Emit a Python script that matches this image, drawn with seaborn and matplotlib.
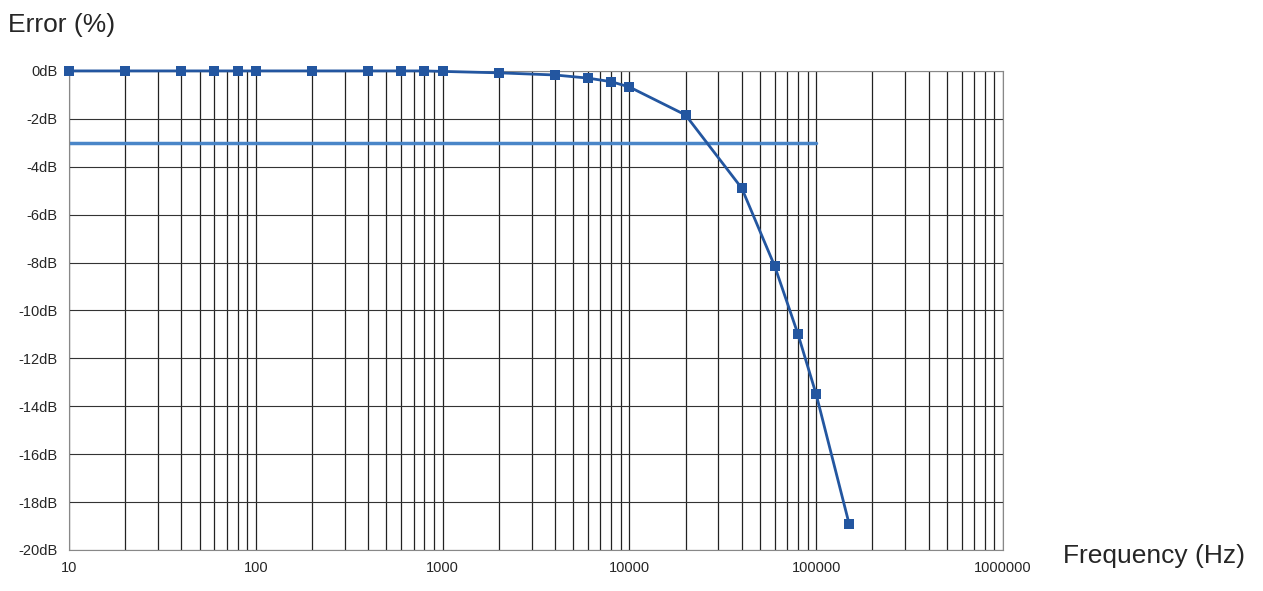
import numpy as np
import matplotlib
matplotlib.use("Agg")
import matplotlib.pyplot as plt
import seaborn as sns
from matplotlib.ticker import LogLocator, FixedLocator, FuncFormatter

# Frequency response
freq_hz = [10, 20, 40, 60, 80, 100, 200, 400, 600, 800, 1000, 2000, 4000,
           6000, 8000, 10000, 20000, 40000, 60000, 80000, 100000, 150000]
error_db = [0, 0, 0, 0, 0, 0, 0, 0, 0, 0, -0.02, -0.08, -0.17,
            -0.3, -0.45, -0.67, -1.84, -4.9, -8.15, -11.0, -13.5, -18.9]
cutoff_x = [10, 100000]
cutoff_y = [-3, -3]

sns.set_style("white")
plt.rcParams['font.family'] = ['Liberation Sans', 'DejaVu Sans']

fig = plt.figure(figsize=(12.63, 5.91), dpi=100)
ax = fig.add_axes([0.0546, 0.0694, 0.7395, 0.8106])

sns.lineplot(x=cutoff_x, y=cutoff_y, ax=ax, color="#4a86c8", linewidth=2.5)
sns.lineplot(x=freq_hz, y=error_db, ax=ax, color="#2356a0", linewidth=2,
             marker="s", markersize=7, markeredgewidth=0, clip_on=False, zorder=5)

ax.set_xscale("log")
ax.set_xlim(10, 1e6)
ax.set_ylim(-20, 0)
ax.xaxis.set_major_locator(FixedLocator([10, 100, 1000, 10000, 100000, 1000000]))
ax.xaxis.set_major_formatter(FuncFormatter(lambda v, p: f"{int(round(v))}"))
ax.xaxis.set_minor_locator(LogLocator(base=10, subs=np.arange(2, 10)))
ax.xaxis.set_minor_formatter(FuncFormatter(lambda v, p: ""))
ax.set_yticks(np.arange(-20, 1, 2))
ax.yaxis.set_major_formatter(FuncFormatter(lambda v, p: f"{int(v)}dB"))
ax.grid(which="major", axis="both", color="#222222", linewidth=0.9)
ax.grid(which="minor", axis="x", color="#222222", linewidth=0.9)
ax.grid(which="major", axis="y", color="#333333", linewidth=0.8)
ax.tick_params(axis="both", which="both", length=0, labelsize=10.5, pad=8)
for s in ax.spines.values():
    s.set_color("#888888")
    s.set_linewidth(0.8)

fig.text(8 / 1263, 1 - 25 / 591, "Error (%)", fontsize=19, va="center", ha="left")
fig.text(1063 / 1263, 1 - 556 / 591, "Frequency (Hz)", fontsize=19, va="center", ha="left")

fig.savefig("out.png", dpi=100)
